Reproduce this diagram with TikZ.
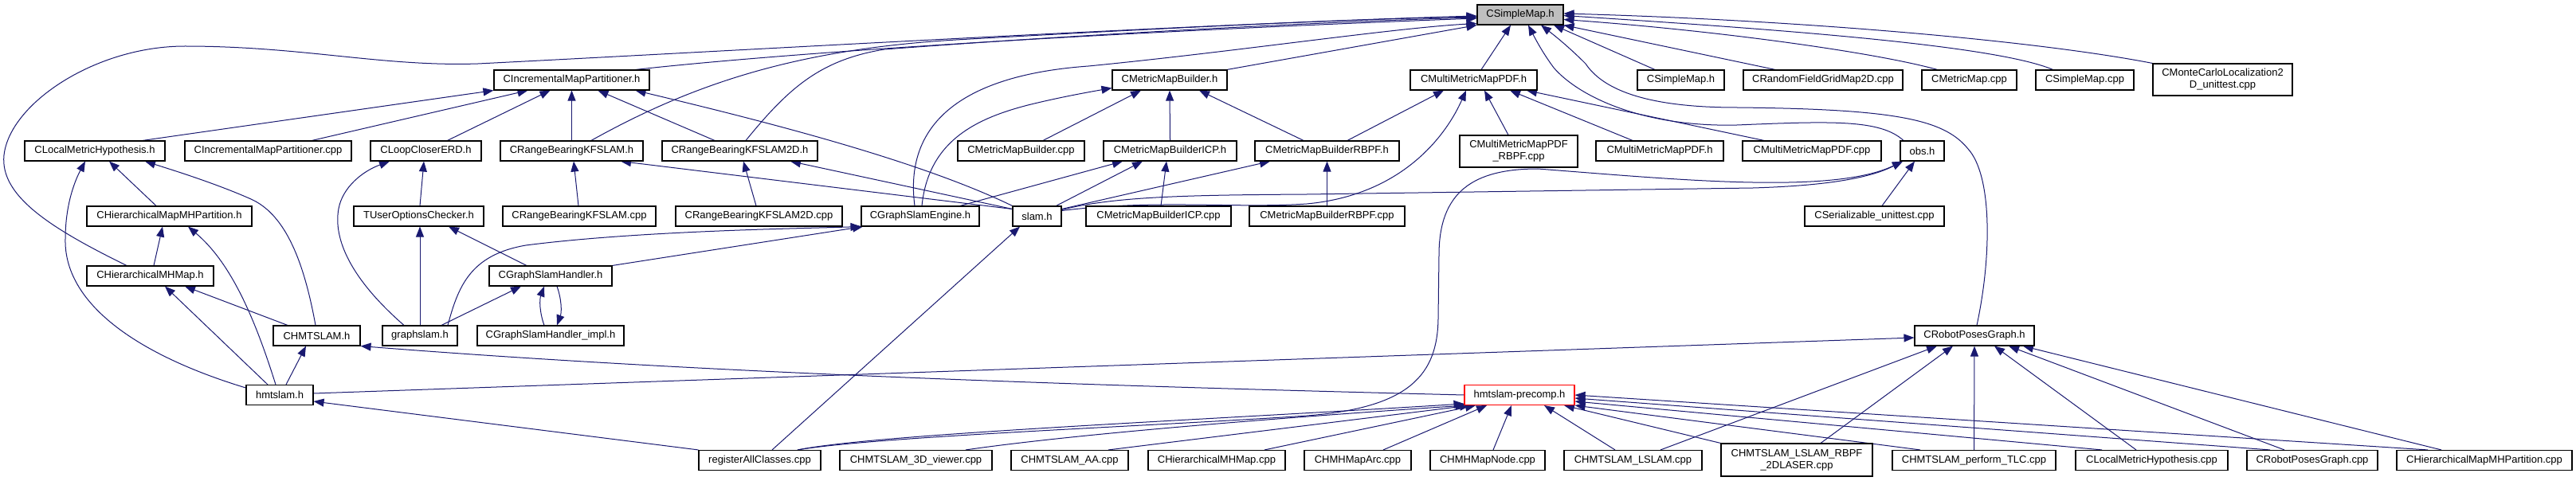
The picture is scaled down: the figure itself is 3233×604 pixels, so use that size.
\documentclass[tikz,border=0pt]{standalone}
\usepackage{fontspec}
\setmainfont{Liberation Sans}
\usetikzlibrary{arrows.meta}
\definecolor{edgec}{RGB}{25,25,112}
\definecolor{rootfill}{RGB}{191,191,191}
\pgfdeclarelayer{bg}
\pgfsetlayers{bg,main}
\begin{document}
\begin{tikzpicture}[x=1pt,y=-1pt,
  box/.style={draw=black, line width=1.1pt, fill=white, rectangle, inner sep=0pt, minimum height=25pt, font=\fontsize{13}{15}\selectfont, align=center},
  rootbox/.style={box, fill=rootfill},
  redbox/.style={box, draw=red},
  dep/.style={draw=edgec, line width=1pt, -{Triangle[length=13pt,width=10pt]}}]
\useasboundingbox (0,0) rectangle (3233,604);
% row 0
\node[rootbox, minimum width=108pt] (root) at (1908,18.5) {CSimpleMap.h};
% row 1
\node[box, minimum width=195pt] (cimpH) at (717.5,100.5) {CIncrementalMapPartitioner.h};
\node[box, minimum width=144pt] (cmmbH) at (1468,100.5) {CMetricMapBuilder.h};
\node[box, minimum width=159pt] (cmmpdfH) at (1849.5,100.5) {CMultiMetricMapPDF.h};
\node[box, minimum width=109pt] (csmtH) at (2109.5,100.5) {CSimpleMap.h};
\node[box, minimum width=200pt] (crfgC) at (2288,100.5) {CRandomFieldGridMap2D.cpp};
\node[box, minimum width=119pt] (cmmC) at (2471.5,100.5) {CMetricMap.cpp};
\node[box, minimum width=123pt] (csmC) at (2616.5,100.5) {CSimpleMap.cpp};
\node[box, minimum width=175pt, minimum height=40pt] (cmcl) at (2789.5,100) {CMonteCarloLocalization2\\D\_unittest.cpp};
% row 2
\node[box, minimum width=176pt] (clmhH) at (119,189.5) {CLocalMetricHypothesis.h};
\node[box, minimum width=209pt] (cimpC) at (336.5,189.5) {CIncrementalMapPartitioner.cpp};
\node[box, minimum width=139pt] (clcH) at (534.5,189.5) {CLoopCloserERD.h};
\node[box, minimum width=179pt] (crbH) at (717.5,189.5) {CRangeBearingKFSLAM.h};
\node[box, minimum width=195pt] (crbtH) at (928.5,189.5) {CRangeBearingKFSLAM2D.h};
\node[box, minimum width=159pt] (cmmbC) at (1281.5,189.5) {CMetricMapBuilder.cpp};
\node[box, minimum width=167pt] (icpH) at (1468.5,189.5) {CMetricMapBuilderICP.h};
\node[box, minimum width=181pt] (rbpfH) at (1665.5,189.5) {CMetricMapBuilderRBPF.h};
\node[box, minimum width=148pt, minimum height=40pt] (pdfrbpfC) at (1906,190) {CMultiMetricMapPDF\\\_RBPF.cpp};
\node[box, minimum width=160pt] (cmmpdftH) at (2083,189.5) {CMultiMetricMapPDF.h};
\node[box, minimum width=174pt] (cmmpdfC) at (2274,189.5) {CMultiMetricMapPDF.cpp};
\node[box, minimum width=55pt] (obsH) at (2412.5,189.5) {obs.h};
% row 3
\node[box, minimum width=207pt] (chmpH) at (212.5,271.5) {CHierarchicalMapMHPartition.h};
\node[box, minimum width=163pt] (tuocH) at (525.5,271.5) {TUserOptionsChecker.h};
\node[box, minimum width=192pt] (crbC) at (727,271.5) {CRangeBearingKFSLAM.cpp};
\node[box, minimum width=209pt] (crbtC) at (952.5,271.5) {CRangeBearingKFSLAM2D.cpp};
\node[box, minimum width=148pt] (gseH) at (1155,271.5) {CGraphSlamEngine.h};
\node[box, minimum width=61pt] (slamH) at (1301.5,271.5) {slam.h};
\node[box, minimum width=182pt] (icpC) at (1454,271.5) {CMetricMapBuilderICP.cpp};
\node[box, minimum width=195pt] (rbpfC) at (1665.5,271.5) {CMetricMapBuilderRBPF.cpp};
\node[box, minimum width=175pt] (csrC) at (2352.5,271.5) {CSerializable\_unittest.cpp};
% row 4
\node[box, minimum width=159pt] (chmmH) at (188.5,346.5) {CHierarchicalMHMap.h};
\node[box, minimum width=154pt] (gshH) at (691,346.5) {CGraphSlamHandler.h};
% row 5
\node[box, minimum width=109pt] (chmtslamH) at (397.5,421.5) {CHMTSLAM.h};
\node[box, minimum width=94pt] (graphslamH) at (527,421.5) {graphslam.h};
\node[box, minimum width=184pt] (gshiH) at (691,421.5) {CGraphSlamHandler\_impl.h};
\node[box, minimum width=150pt] (rpgH) at (2478,421.5) {CRobotPosesGraph.h};
% row 6
\node[box, minimum width=84pt] (hmtslamH) at (351,496) {hmtslam.h};
\node[redbox, minimum width=138pt] (precompH) at (1907,496) {hmtslam-precomp.h};
% row 7
\node[box, minimum width=153pt] (regC) at (953.5,578) {registerAllClasses.cpp};
\node[box, minimum width=191pt] (vtdC) at (1149.5,578) {CHMTSLAM\_3D\_viewer.cpp};
\node[box, minimum width=147pt] (aaC) at (1342.5,578) {CHMTSLAM\_AA.cpp};
\node[box, minimum width=172pt] (chmmC) at (1527,578) {CHierarchicalMHMap.cpp};
\node[box, minimum width=134pt] (arcC) at (1704,578) {CHMHMapArc.cpp};
\node[box, minimum width=144pt] (nodeC) at (1867,578) {CHMHMapNode.cpp};
\node[box, minimum width=173pt] (lslamC) at (2049.5,578) {CHMTSLAM\_LSLAM.cpp};
\node[box, minimum width=190pt, minimum height=41pt] (rbpftC) at (2255,577.5) {CHMTSLAM\_LSLAM\_RBPF\\\_2DLASER.cpp};
\node[box, minimum width=205pt] (tlcC) at (2477.5,578) {CHMTSLAM\_perform\_TLC.cpp};
\node[box, minimum width=191pt] (clmhC) at (2700.5,578) {CLocalMetricHypothesis.cpp};
\node[box, minimum width=164pt] (rpgC) at (2902,578) {CRobotPosesGraph.cpp};
\node[box, minimum width=220pt] (chmpC) at (3118,578) {CHierarchicalMapMHPartition.cpp};

\begin{pgfonlayer}{bg}
% into root
\draw[dep] ([xshift=-29.5pt]chmmH.north) .. controls (60,285) and (0,245) .. (5,195) .. controls (12,130) and (120,58) .. (232,58) .. controls (380,58) and (480,84) .. (600,80) .. controls (900,65) and (1500,30) .. ([yshift=-1.5pt]root.west);
\draw[dep] ([xshift=80pt]cimpH.north) .. controls (1000,65) and (1400,40) .. ([yshift=-4.5pt]root.west);
\draw[dep] ([xshift=24.5pt]crbH.north) .. controls (870,105) and (1000,62) .. (1200,50) .. controls (1500,33) and (1700,24) .. ([yshift=-2.5pt]root.west);
\draw[dep] ([xshift=7.5pt]crbtH.north) .. controls (990,110) and (1030,75) .. (1110,62) .. controls (1400,40) and (1700,26) .. ([yshift=-3.5pt]root.west);
\draw[dep] ([xshift=-7pt]gseH.north) .. controls (1135,160) and (1200,95) .. (1366,83) .. controls (1550,65) and (1750,35) .. ([yshift=-11pt]root.west);
\draw[dep] ([xshift=72pt]cmmbH.north) -- (root.south west);
\draw[dep] ([xshift=9.5pt]cmmpdfH.north) -- ([xshift=-12pt]root.south);
\draw[dep] ([xshift=-32.5pt]csmtH.north) -- ([xshift=42pt]root.south);
\draw[dep] ([xshift=-60pt]crfgC.north) -- (root.south east);
\draw[dep] ([xshift=-40pt]cmmC.north) .. controls (2350,65) and (2150,38) .. ([yshift=-6pt]root.east);
\draw[dep] ([xshift=-40pt]csmC.north) .. controls (2500,55) and (2200,35) .. ([yshift=-1pt]root.east);
\draw[dep] (cmcl.north west) .. controls (2550,50) and (2250,25) .. ([yshift=1.5pt]root.east);
\draw[dep] ([xshift=-23.5pt]obsH.north) .. controls (2360,150) and (2300,152) .. (2180,157) .. controls (2060,160) and (1980,120) .. (1950,85) .. controls (1935,65) and (1925,45) .. ([xshift=10pt]root.south);
\draw[dep] ([xshift=3pt]rpgH.north) .. controls (2500,320) and (2500,220) .. (2470,187) .. controls (2440,150) and (2380,137) .. (2180,135) .. controls (2060,135) and (2010,110) .. (1990,80) .. controls (1965,55) and (1945,40) .. ([xshift=26pt]root.south);
% into CIncrementalMapPartitioner.h
\draw[dep] ([xshift=60pt]clmhH.north) -- (cimpH.south west);
\draw[dep] ([xshift=55pt]cimpC.north) -- ([xshift=-55pt]cimpH.south);
\draw[dep] ([xshift=27pt]clcH.north) -- ([xshift=-27pt]cimpH.south);
\draw[dep] (crbH.north) -- (cimpH.south);
\draw[dep] ([xshift=-31.5pt]crbtH.north) -- ([xshift=33pt]cimpH.south);
\draw[dep] (slamH.north west) .. controls (1150,200) and (950,150) .. ([xshift=80pt]cimpH.south);
% into CRangeBearing
\draw[dep] ([xshift=-1pt]crbC.north) -- ([xshift=2.5pt]crbH.south);
\draw[dep] ([yshift=9pt]slamH.west) -- ([xshift=61.5pt]crbH.south);
\draw[dep] ([yshift=9pt]slamH.west) -- ([xshift=63.5pt]crbtH.south);
\draw[dep] ([xshift=-3.5pt]crbtC.north) -- ([xshift=4.5pt]crbtH.south);
% into CLoopCloserERD.h
\draw[dep] ([xshift=1.5pt]tuocH.north) -- ([xshift=-2.5pt]clcH.south);
\draw[dep] ([xshift=-20pt]graphslamH.north) .. controls (440,350) and (418,300) .. (425,262) .. controls (430,235) and (455,215) .. ([xshift=-45.5pt]clcH.south);
% into CLocalMetricHypothesis.h
\draw[dep] ([xshift=-16.5pt]chmpH.north) -- ([xshift=18pt]clmhH.south);
\draw[dep] ([yshift=9pt]hmtslamH.west) .. controls (170,445) and (80,380) .. (82,300) .. controls (82,255) and (95,225) .. ([xshift=-12pt]clmhH.south);
\draw[dep] ([xshift=-1.5pt]chmtslamH.north) .. controls (380,320) and (355,268) .. (315,250) .. controls (270,230) and (215,213) .. ([xshift=63pt]clmhH.south);
% into CHierarchicalMapMHPartition.h
\draw[dep] ([xshift=4.5pt]chmmH.north) -- ([xshift=-8.5pt]chmpH.south);
\draw[dep] ([xshift=-5pt]hmtslamH.north) .. controls (320,400) and (290,330) .. ([xshift=23.5pt]chmpH.south);
% into CHierarchicalMHMap.h
\draw[dep] ([xshift=-15pt]hmtslamH.north) -- ([xshift=18.5pt]chmmH.south);
\draw[dep] ([xshift=-36.5pt]chmtslamH.north) -- ([xshift=43.5pt]chmmH.south);
% into CHMTSLAM.h
\draw[dep] ([xshift=8pt]hmtslamH.north) -- ([xshift=-13.5pt]chmtslamH.south);
\draw[dep] (precompH.west) .. controls (1400,485) and (900,470) .. (chmtslamH.south east);
% into CRobotPosesGraph.h
\draw[dep] ([yshift=2pt]hmtslamH.east) -- ([yshift=-2.5pt]rpgH.west);
\draw[dep] ([xshift=34.5pt]lslamC.north) -- ([xshift=-47pt]rpgH.south);
\draw[dep] ([xshift=30pt]rbpftC.north) -- ([xshift=-27pt]rpgH.south);
\draw[dep] (tlcC.north) -- (rpgH.south);
\draw[dep] ([xshift=-19.5pt]clmhC.north) -- ([xshift=25pt]rpgH.south);
\draw[dep] ([xshift=-35pt]rpgC.north) -- ([xshift=43pt]rpgH.south);
\draw[dep] ([xshift=-54pt]chmpC.north) -- ([xshift=61pt]rpgH.south);
% into hmtslam-precomp.h
\draw[dep] ([xshift=47.5pt]regC.north) .. controls (1100,545) and (1500,528) .. ([yshift=-11pt]precompH.west);
\draw[dep] ([xshift=62.5pt]vtdC.north) .. controls (1350,545) and (1600,525) .. ([xshift=2pt]precompH.south west);
\draw[dep] ([xshift=48.5pt]aaC.north) -- ([xshift=-62pt]precompH.south);
\draw[dep] ([xshift=60pt]chmmC.north) -- ([xshift=-55pt]precompH.south);
\draw[dep] ([xshift=32pt]arcC.north) -- ([xshift=-41pt]precompH.south);
\draw[dep] ([xshift=7pt]nodeC.north) -- ([xshift=-10pt]precompH.south);
\draw[dep] ([xshift=-22.5pt]lslamC.north) -- ([xshift=31pt]precompH.south);
\draw[dep] (rbpftC.north west) -- ([xshift=56pt]precompH.south);
\draw[dep] ([xshift=-67.5pt]tlcC.north) -- (precompH.south east);
\draw[dep] ([xshift=-62.5pt]clmhC.north) -- ([yshift=-8pt]precompH.east);
\draw[dep] ([xshift=-53pt]rpgC.north) -- ([yshift=-4pt]precompH.east);
\draw[dep] ([xshift=-71pt]chmpC.north) -- (precompH.east);
% into obs.h
\draw[dep] ([yshift=8pt]slamH.east) .. controls (1400,246) and (1500,245) .. (1640,244) -- (2200,236) .. controls (2300,233) and (2350,222) .. ([xshift=-24.5pt]obsH.south);
\draw[dep] ([xshift=47.5pt]regC.north) .. controls (1100,548) and (1450,535) .. (1640,522) .. controls (1770,512) and (1804,470) .. (1805,400) -- (1806,320) .. controls (1806,240) and (1850,212) .. (1930,212) .. controls (2100,225) and (2300,245) .. ([xshift=-24.5pt]obsH.south);
\draw[dep] ([xshift=9.5pt]csrC.north) -- ([xshift=-9.5pt]obsH.south);
% into slam.h
\draw[dep] ([xshift=15.5pt]regC.north) -- ([xshift=-21.5pt]slamH.south);
% into CMetricMapBuilderICP.h / RBPF / MultiMetricMapPDF from slam.h
\draw[dep] ([xshift=24pt]slamH.north) -- ([xshift=-34.5pt]icpH.south);
\draw[dep] ([yshift=9pt]slamH.east) -- ([xshift=-71.5pt]rbpfH.south);
\draw[dep] ([yshift=7pt]slamH.east) .. controls (1450,250) and (1550,262) .. (1640,256) .. controls (1760,245) and (1815,170) .. ([xshift=-9.5pt]cmmpdfH.south);
\draw[dep] ([xshift=50pt]gseH.north) -- ([xshift=-59.5pt]icpH.south);
\draw[dep] ([xshift=3pt]icpC.north) -- ([xshift=-4.5pt]icpH.south);
% into CMetricMapBuilder.h
\draw[dep] ([xshift=2pt]gseH.north) .. controls (1165,180) and (1220,150) .. (1290,132) .. controls (1330,122) and (1370,115) .. ([yshift=-10pt]cmmbH.west);
\draw[dep] ([xshift=27.5pt]cmmbC.north) -- ([xshift=-36pt]cmmbH.south);
\draw[dep] (icpH.north) -- (cmmbH.south);
\draw[dep] ([xshift=-29.5pt]rbpfH.north) -- ([xshift=37pt]cmmbH.south);
\draw[dep] (rbpfC.north) -- (rbpfH.south);
% into CMultiMetricMapPDF.h
\draw[dep] ([xshift=25.5pt]rbpfH.north) -- ([xshift=-37.5pt]cmmpdfH.south);
\draw[dep] ([xshift=-13pt]pdfrbpfC.north) -- ([xshift=13.5pt]cmmpdfH.south);
\draw[dep] ([xshift=-34pt]cmmpdftH.north) -- ([xshift=45.5pt]cmmpdfH.south);
\draw[dep] ([xshift=-60pt]cmmpdfC.north) -- ([xshift=66.5pt]cmmpdfH.south);
% into TUserOptionsChecker.h
\draw[dep] (graphslamH.north) -- ([xshift=1.5pt]tuocH.south);
\draw[dep] ([xshift=-30pt]gshH.north) -- ([xshift=37.5pt]tuocH.south);
% into CGraphSlamEngine.h
\draw[dep] (gshH.north east) -- ([xshift=-72pt]gseH.south);
\draw[dep] ([xshift=35pt]graphslamH.north) .. controls (575,360) and (590,320) .. (660,308) .. controls (800,290) and (1000,287) .. (gseH.south west);
% CGraphSlamHandler
\draw[dep] ([xshift=27pt]graphslamH.north) -- ([xshift=-37pt]gshH.south);
\draw[dep] ([xshift=-8pt]gshiH.north) .. controls (677,392) and (677,376) .. ([xshift=-8pt]gshH.south);
\draw[dep] ([xshift=8pt]gshH.south) .. controls (705,376) and (705,392) .. ([xshift=8pt]gshiH.north);
% into hmtslam.h
\draw[dep] (regC.north west) -- ([yshift=-8pt]hmtslamH.east);
\end{pgfonlayer}
\end{tikzpicture}
\end{document}
